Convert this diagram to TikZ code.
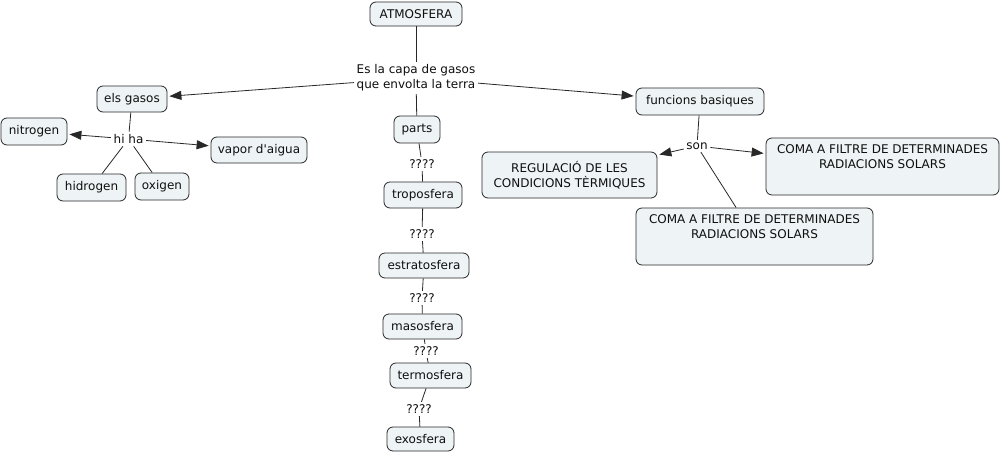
\documentclass[tikz,border=0pt]{standalone}
\usepackage{fontspec}
\setmainfont{DejaVu Sans}
\usetikzlibrary{arrows.meta}
\definecolor{boxfill}{RGB}{238,243,246}
\definecolor{boxline}{RGB}{40,40,40}
\definecolor{txt}{RGB}{15,15,15}
\begin{document}
\begin{tikzpicture}[x=1pt,y=-1pt,
  every node/.style={font=\fontsize{12}{15}\selectfont, text=txt},
  concept/.style={draw=boxline, line width=0.8pt, fill=boxfill, rounded corners=6pt,
     inner sep=0pt, align=center},
  linkph/.style={inner sep=2.5pt, align=center},
  conn/.style={draw=boxline, line width=0.8pt},
  arr/.style={conn, -{Triangle[length=12pt,width=9pt]}, shorten >=2pt}]
\useasboundingbox (0,0) rectangle (1002,453);
\fill[white] (0,0) rectangle (1002,453);
% concepts
\node[concept, minimum width=92pt, minimum height=24pt] (atm) at (416,14) {ATMOSFERA};
\node[concept, minimum width=70pt, minimum height=26pt] (gasos) at (132,99) {els gasos};
\node[concept, minimum width=66pt, minimum height=27pt] (nitro) at (34,131.5) {nitrogen};
\node[concept, minimum width=96pt, minimum height=26pt] (vapor) at (259,150) {vapor d\textquotesingle aigua};
\node[concept, minimum width=69pt, minimum height=27pt] (hidro) at (91.5,187.5) {hidrogen};
\node[concept, minimum width=54pt, minimum height=27pt] (oxi) at (162,186.5) {oxigen};
\node[concept, minimum width=46pt, minimum height=27pt] (parts) at (417,129.5) {parts};
\node[concept, minimum width=78pt, minimum height=26pt] (tropo) at (423,195) {troposfera};
\node[concept, minimum width=90pt, minimum height=25pt] (estra) at (424,265.5) {estratosfera};
\node[concept, minimum width=79pt, minimum height=25pt] (maso) at (422.5,326.5) {masosfera};
\node[concept, minimum width=81pt, minimum height=25pt] (termo) at (430.5,375.5) {termosfera};
\node[concept, minimum width=67pt, minimum height=24pt] (exo) at (420.5,439) {exosfera};
\node[concept, minimum width=128pt, minimum height=27pt] (func) at (700,101.5) {funcions basiques};
\node[concept, minimum width=175pt, minimum height=46pt] (regul) at (569.5,175) {REGULACIÓ DE LES\\CONDICIONS TÈRMIQUES};
\node[concept, minimum width=233pt, minimum height=57pt] (coma1) at (882.5,166.5) {COMA A FILTRE DE DETERMINADES\\RADIACIONS SOLARS\\\strut};
\node[concept, minimum width=237pt, minimum height=57pt] (coma2) at (754.5,236.5) {COMA A FILTRE DE DETERMINADES\\RADIACIONS SOLARS\\\strut};
% linking phrases
\node[linkph] (es) at (416,78) {Es la capa de gasos\\que envolta la terra};
\node[linkph] (hiha) at (128.5,139) {hi ha};
\node[linkph] (son) at (697,146) {son};
\node[linkph] (q1) at (422,164) {????};
\node[linkph] (q2) at (422,234) {????};
\node[linkph] (q3) at (422,298) {????};
\node[linkph] (q4) at (426,351) {????};
\node[linkph] (q5) at (419,409) {????};
% connectors
\draw[conn] (atm) -- (es);
\draw[arr] (es) -- (gasos);
\draw[arr] (es) -- (func);
\draw[conn] (es) -- (parts);
\draw[conn] (gasos) -- (hiha);
\draw[arr] (hiha) -- (nitro);
\draw[arr] (hiha) -- (vapor);
\draw[conn] (hiha) -- (hidro);
\draw[conn] (hiha) -- (oxi);
\draw[conn] (parts) -- (q1);
\draw[conn] (q1) -- (tropo);
\draw[conn] (tropo) -- (q2);
\draw[conn] (q2) -- (estra);
\draw[conn] (estra) -- (q3);
\draw[conn] (q3) -- (maso);
\draw[conn] (maso) -- (q4);
\draw[conn] (q4) -- (termo);
\draw[conn] (termo) -- (q5);
\draw[conn] (q5) -- (exo);
\draw[conn] (func) -- (son);
\draw[arr] (son) -- (regul);
\draw[arr] (son) -- (coma1);
\draw[conn] (son) -- (coma2);
\end{tikzpicture}
\end{document}
